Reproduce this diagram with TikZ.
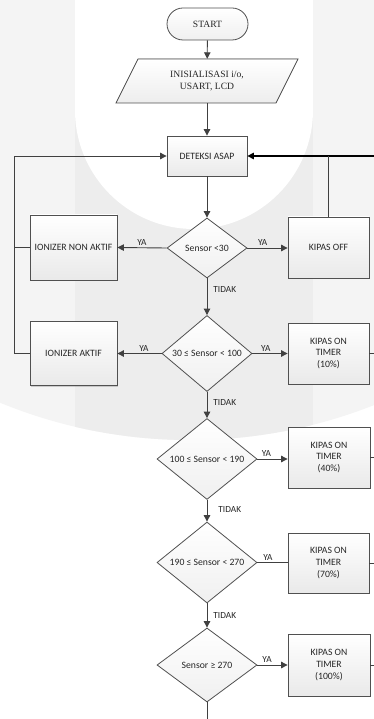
\documentclass[tikz,border=0pt]{standalone}
\usepackage{fontspec}
\setmainfont{Carlito}
\newfontfamily\seriffont{Liberation Serif}
\usetikzlibrary{arrows.meta,shapes.geometric,shadows}
\definecolor{linec}{HTML}{404040}
\definecolor{boxc}{HTML}{505050}
\definecolor{textc}{HTML}{262626}
\definecolor{wmouter}{HTML}{F4F4F4}
\definecolor{wmband}{HTML}{EDEDED}
\begin{document}
\begin{tikzpicture}[x=1pt,y=-1pt,
  conn/.style={draw=linec, line width=0.9pt},
  arr/.style={conn, -{Triangle[length=6.5pt,width=6.5pt]}},
  boxshade/.style={top color=white, bottom color=gray!17},
  procbox/.style={draw=boxc, line width=0.8pt, boxshade, rectangle, text=textc,
    drop shadow={shadow xshift=1pt, shadow yshift=-1pt, opacity=0.35},
    font=\fontsize{9.7}{11.7}\selectfont, align=center, inner sep=0pt},
  decision/.style={draw=boxc, line width=0.8pt, top color=white, bottom color=gray!12,
    diamond, inner sep=0pt, text=textc, font=\fontsize{9.7}{11}\selectfont, align=center},
  terminal/.style={draw=boxc, line width=0.8pt, top color=white, bottom color=gray!12,
    rectangle, rounded corners=16pt, minimum width=81pt, minimum height=32pt, text=textc,
    font=\seriffont\fontsize{9.6}{12}\selectfont},
  ionode/.style={rectangle, minimum width=140pt, minimum height=44pt, inner sep=0pt,
    align=center, text=textc, font=\seriffont\fontsize{9.6}{12.5}\selectfont},
  lbl/.style={font=\fontsize{9.3}{10}\selectfont, text=textc, inner sep=1pt}
]
\useasboundingbox (0,0) rectangle (374,719);
% watermark
\fill[white] (0,0) rectangle (374,719);
\begin{scope}
  \clip (0,0) rectangle (374,719);
  \begin{scope}
    \clip (190,-60) circle (500pt);
    \fill[wmouter] (0,0) rectangle (374,719);
    \fill[wmband] (75,0) rectangle (313,719);
  \end{scope}
  \fill[white] (75,0) rectangle (313,110);
  \fill[white] (194,110) circle (119pt);
\end{scope}

% nodes
\node[terminal] (start) at (207.5,24) {START};
\fill[top color=white, bottom color=gray!14] (138,59) -- (298,59) -- (276,103) -- (116,103) -- cycle;
\draw[boxc, line width=0.8pt] (138,59) -- (298,59) -- (276,103) -- (116,103) -- cycle;
\node[ionode] (init) at (207,81) {INISIALISASI i/o,\\USART, LCD};
\node[procbox, minimum width=80pt, minimum height=40pt] (detek) at (207,156) {DETEKSI ASAP};

\node[decision, minimum width=80pt, minimum height=60pt] (d1) at (207,248) {Sensor {<}30};
\node[procbox, minimum width=87pt, minimum height=65pt] (ion1) at (73.5,247.5) {IONIZER NON AKTIF};
\node[procbox, minimum width=81pt, minimum height=61pt] (koff) at (328.5,247.5) {KIPAS OFF};

\node[decision, minimum width=90pt, minimum height=69pt] (d2) at (207,353.5) {30 ≤ Sensor {<} 100};
\node[procbox, minimum width=87pt, minimum height=64pt] (ion2) at (73.5,353.5) {IONIZER AKTIF};
\node[procbox, minimum width=81pt, minimum height=61pt] (k10) at (328.5,353.5) {KIPAS ON\\TIMER\\(10\%)};

\node[decision, minimum width=100pt, minimum height=74pt] (d3) at (207,459) {100 ≤ Sensor {<} 190};
\node[procbox, minimum width=82pt, minimum height=61pt] (k40) at (329,457.5) {KIPAS ON\\TIMER\\(40\%)};

\node[decision, minimum width=100pt, minimum height=73pt] (d4) at (207,562.5) {190 ≤ Sensor {<} 270};
\node[procbox, minimum width=81pt, minimum height=60pt] (k70) at (328.5,563) {KIPAS ON\\TIMER\\(70\%)};

\node[decision, minimum width=100pt, minimum height=74pt] (d5) at (207,665) {Sensor ≥ 270};
\node[procbox, minimum width=82pt, minimum height=62pt] (k100) at (329,665) {KIPAS ON\\TIMER\\(100\%)};

\coordinate (lb) at (14,353.5);
\coordinate (rt) at (374,156);
\coordinate (bot) at (207,719);

% connectors
\draw[arr] (start) -- (init);
\draw[arr] (init) -- (detek);
\draw[arr] (detek) -- (d1);
\draw[arr] (d1.west) -- node[lbl, above, pos=0.5, yshift=1pt] {YA} (ion1.east);
\draw[arr] (d1.east) -- node[lbl, above, pos=0.38, yshift=1pt] {YA} (d1.east -| koff.west);
\draw[arr] (d1.south) -- node[lbl, right, pos=0.3, xshift=5pt] {TIDAK} (d2.north);
\draw[arr] (d2.west) -- node[lbl, above, pos=0.4, yshift=1pt] {YA} (ion2.east);
\draw[arr] (d2.east) -- node[lbl, above, pos=0.38, yshift=1pt] {YA} (k10.west);
\draw[arr] (d2.south) -- node[lbl, right, pos=0.4, xshift=5pt] {TIDAK} (d3.north);
\draw[arr] (d3.east) -- node[lbl, above, pos=0.3, yshift=1pt] {YA} (d3.east -| k40.west);
\draw[arr] (d3.south) -- node[lbl, right, pos=0.45, xshift=10pt] {TIDAK} (d4.north);
\draw[conn] (d4.east) -- node[lbl, above, pos=0.35, yshift=1pt] {YA} (d4.east -| k70.west);
\draw[arr] (d4.south) -- node[lbl, right, pos=0.5, xshift=5pt] {TIDAK} (d5.north);
\draw[arr] (d5.east) -- node[lbl, above, pos=0.32, yshift=1pt] {YA} (k100.west);
\draw[conn] (d5.south) -- (bot);

% left loop
\draw[arr] (ion2.west) -- (lb) |- (detek.west);
\draw[conn] (ion1.west) -- (ion1.west -| lb);
% right loop
\draw[arr, line width=1.3pt, draw=black] (rt) -- (detek.east);
\draw[conn] (koff.north) -- (koff.north |- rt);
\draw[conn] (k10.east) -- (k10.east -| rt);
\draw[conn] (k40.east) -- (k40.east -| rt);
\draw[conn] (k70.east) -- (k70.east -| rt);
\draw[conn] (k100.east) -- (k100.east -| rt);
\end{tikzpicture}
\end{document}
